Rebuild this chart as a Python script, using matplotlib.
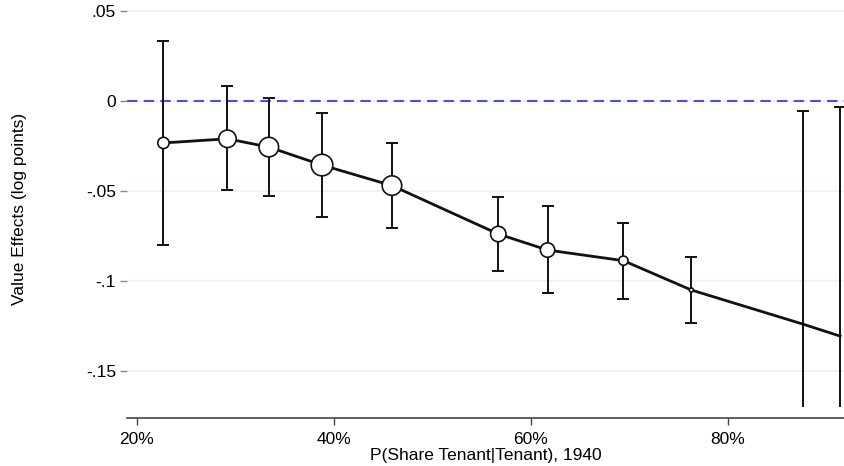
import matplotlib.pyplot as plt
from matplotlib.ticker import FixedLocator

# bin midpoints, P(share tenant | tenant) in percent
share = [22.7, 29.2, 33.4, 38.8, 45.9, 56.7, 61.7, 69.4, 76.3, 87.6, 91.4]
# point estimates and 95% CI bounds (log points)
coef = [-0.0233, -0.0210, -0.0256, -0.0356, -0.0470, -0.0739, -0.0828, -0.0887, -0.1050, -0.1239, -0.1306]
ci_hi = [0.0333, 0.0083, 0.0017, -0.0067, -0.0233, -0.0533, -0.0583, -0.0680, -0.0868, -0.0054, -0.0035]
ci_lo = [-0.0800, -0.0494, -0.0530, -0.0644, -0.0706, -0.0944, -0.1067, -0.1098, -0.1232, -0.1700, -0.1700]
# relative bin weight (drives marker size)
weight = [11, 17, 19, 21, 19, 15, 14, 9, 4, 0, 0]

yticks = [0.05, 0, -0.05, -0.1, -0.15]
yticklabels = ['.05', '0', '-.05', '-.1', '-.15']
xticks = [20, 40, 60, 80]
xticklabels = ['20%', '40%', '60%', '80%']

plt.rcParams['font.family'] = ['Liberation Sans', 'DejaVu Sans']

fig = plt.figure(figsize=(8.44, 4.66), dpi=100)
ax = fig.add_axes([127 / 844, 1 - 418 / 466, 1 - 127 / 844, 418 / 466])

ax.set_xlim(19.0, 91.8)
ax.set_ylim(-0.1761, 0.0561)

# grid
for y in yticks:
    ax.axhline(y, color='#eaf2f2', lw=1.2, zorder=0)

ax.axhline(0, color='#4b4bf0', lw=1.5, ls=(0, (5, 3)), zorder=1)

# CIs: bins with clipped lower bounds drawn without lower cap
capped = [i for i in range(len(share)) if weight[i] > 0]
open_ = [i for i in range(len(share)) if weight[i] == 0]

ax.errorbar([share[i] for i in capped], [coef[i] for i in capped],
            yerr=[[coef[i] - ci_lo[i] for i in capped], [ci_hi[i] - coef[i] for i in capped]],
            fmt='none', ecolor='#111111', elinewidth=1.4, capsize=4, capthick=1.4, zorder=2)
ax.vlines([share[i] for i in open_], [ci_lo[i] for i in open_], [ci_hi[i] for i in open_],
          color='#111111', lw=1.4, zorder=2)
ax.plot([share[i] for i in open_], [ci_hi[i] for i in open_], ls='none', marker='_',
        ms=8, mew=1.4, color='#111111', zorder=2)

ax.plot(share, coef, color='#111111', lw=2, zorder=3)
ax.scatter([share[i] for i in capped], [coef[i] for i in capped],
           s=[(weight[i] * 0.74) ** 2 for i in capped], facecolor='white',
           edgecolor='#111111', linewidth=1.2, zorder=4)

for side in ['top', 'right', 'left']:
    ax.spines[side].set_visible(False)
ax.spines['bottom'].set_color('#444444')
ax.spines['bottom'].set_linewidth(1.2)

ax.yaxis.set_major_locator(FixedLocator(yticks))
ax.set_yticklabels(yticklabels)
ax.xaxis.set_major_locator(FixedLocator(xticks))
ax.set_xticklabels(xticklabels)
ax.tick_params(axis='y', length=5, width=1, color='#888888', labelsize=12.5, pad=3)
ax.tick_params(axis='x', length=5, width=1, color='#444444', labelsize=12.5, pad=5)

ax.set_xlabel('P(Share Tenant|Tenant), 1940', fontsize=12.5, labelpad=1)
ax.set_ylabel('Value Effects (log points)', fontsize=12.5, labelpad=42)

fig.savefig('out.png', dpi=100)
